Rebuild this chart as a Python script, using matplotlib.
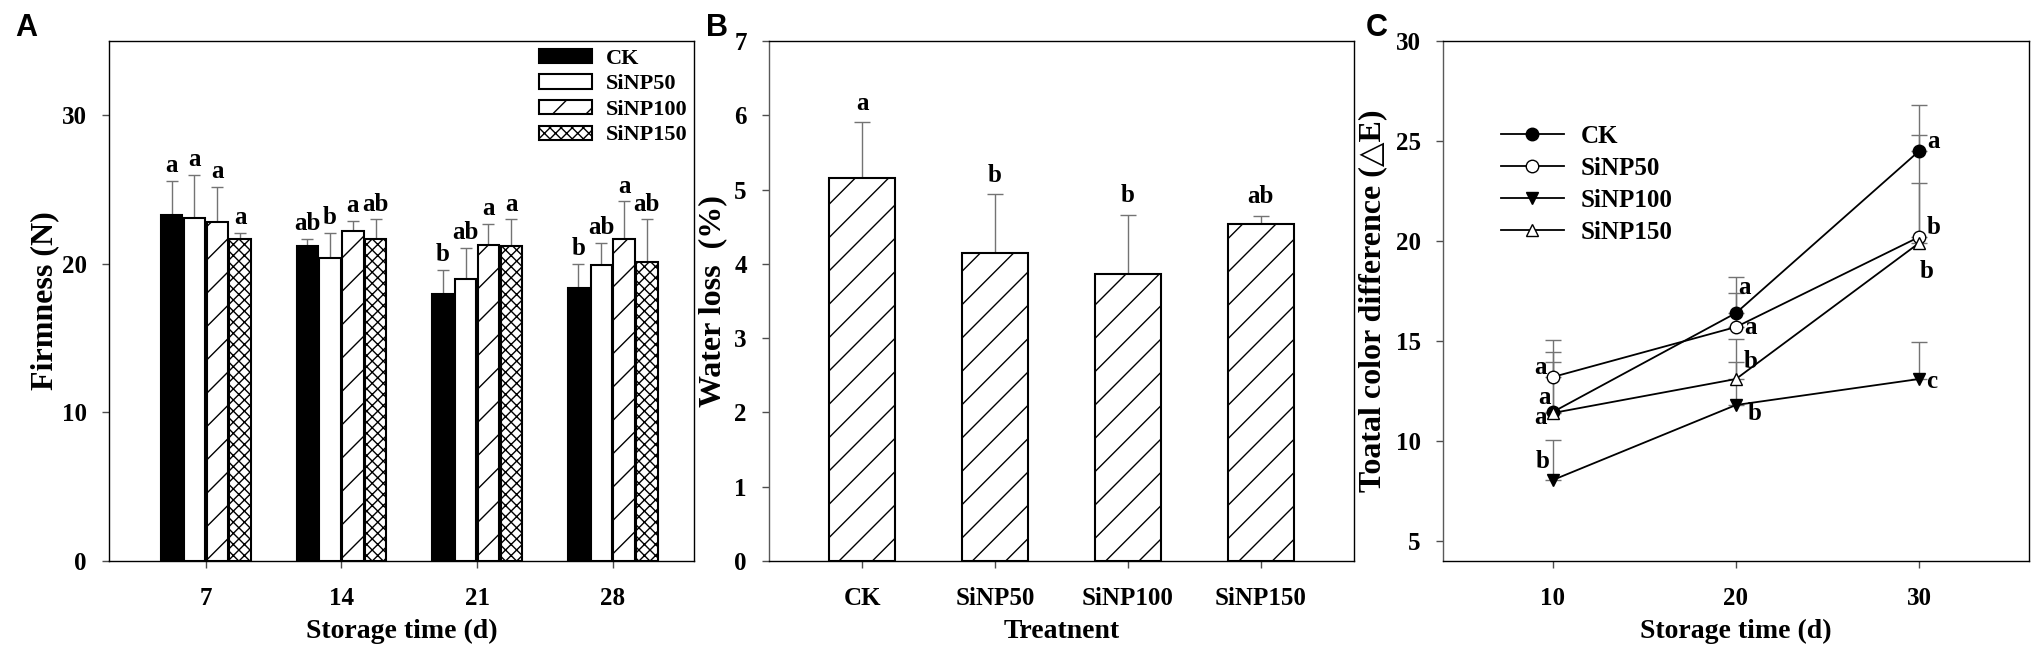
import numpy as np
import matplotlib
matplotlib.use("Agg")
import matplotlib.pyplot as plt

# ===============================
# DATA
# ===============================
treatments = ["CK", "SiNP50", "SiNP100", "SiNP150"]

# A - firmness (N) by storage day
days_a = [7, 14, 21, 28]
firm_ck = [23.3, 21.2, 18.0, 18.4]
firm_50 = [23.1, 20.4, 19.0, 19.9]
firm_100 = [22.8, 22.2, 21.3, 21.7]
firm_150 = [21.7, 21.7, 21.2, 20.1]
firm_ck_err = [2.3, 0.5, 1.6, 1.6]
firm_50_err = [2.9, 1.7, 2.1, 1.5]
firm_100_err = [2.4, 0.7, 1.4, 2.5]
firm_150_err = [0.4, 1.3, 1.8, 2.9]
firm_ck_sig = ["a", "ab", "b", "b"]
firm_50_sig = ["a", "b", "ab", "ab"]
firm_100_sig = ["a", "a", "a", "a"]
firm_150_sig = ["a", "ab", "a", "ab"]

# B - water loss (%)
water_loss = [5.15, 4.15, 3.87, 4.54]
water_loss_err = [0.76, 0.79, 0.79, 0.11]
water_loss_sig = ["a", "b", "b", "ab"]

# C - total color difference
days_c = [10, 20, 30]
de_ck = [11.45, 16.4, 24.5]
de_50 = [13.2, 15.7, 20.2]
de_100 = [8.05, 11.8, 13.1]
de_150 = [11.4, 13.1, 19.9]
de_ck_err = [3.0, 1.8, 2.3]
de_50_err = [1.85, 1.7, 2.7]
de_100_err = [2.0, 3.3, 1.85]
de_150_err = [2.55, 0.85, 5.4]
de_ck_sig = ["a", "a", "a"]
de_50_sig = ["a", "a", "b"]
de_100_sig = ["b", "b", "c"]
de_150_sig = ["a", "b", "b"]

# ===============================
# STYLE
# ===============================
plt.rcParams["font.family"] = ["Liberation Serif", "DejaVu Serif"]
plt.rcParams["font.weight"] = "bold"
plt.rcParams["hatch.linewidth"] = 1.0

TICK_FS = 18
XLABEL_FS = 20
YLABEL_FS = 23
SIG_FS = 18
ERR_COLOR = "0.45"

W, H = 2033, 650
fig = plt.figure(figsize=(W / 100, H / 100), dpi=100)


def add_panel(left, right, top=41, bottom=561):
    return fig.add_axes([left / W, (H - bottom) / H, (right - left) / W, (bottom - top) / H])


def style_axis(ax):
    for sp in ax.spines.values():
        sp.set_linewidth(1.0)
    ax.tick_params(axis="both", direction="out", length=5, width=1,
                   labelsize=TICK_FS, color="0.3")
    ax.tick_params(axis="y", pad=11)
    ax.tick_params(axis="x", pad=14)
    for lbl in ax.get_xticklabels() + ax.get_yticklabels():
        lbl.set_fontweight("bold")


def up_errorbar(ax, x, y, err, capsize):
    eb = ax.errorbar(x, y, yerr=[np.zeros(len(err)), err], fmt="none",
                     ecolor=ERR_COLOR, elinewidth=1.0, capsize=capsize,
                     capthick=1.0, zorder=1)
    for cap in eb[1]:
        cap.set_color("black")
    return eb


ax_a = add_panel(109, 694)
ax_b = add_panel(769, 1354)
ax_c = add_panel(1443, 2029)

# ===============================
# PANEL A
# ===============================
bar_w = 1.1
step = 1.18
a_series = [
    (firm_ck, firm_ck_err, firm_ck_sig, "black", ""),
    (firm_50, firm_50_err, firm_50_sig, "white", ""),
    (firm_100, firm_100_err, firm_100_sig, "white", "/"),
    (firm_150, firm_150_err, firm_150_sig, "white", "xxx"),
]
x_a = np.array(days_a, dtype=float)
for i, (vals, errs, sig, fc, hatch) in enumerate(a_series):
    xs = x_a + (i - 1.5) * step
    ax_a.bar(xs, vals, width=bar_w, color=fc, edgecolor="black",
             linewidth=1.5, hatch=hatch, label=treatments[i], zorder=2)
    up_errorbar(ax_a, xs, vals, errs, capsize=4)
    for xx, v, e, s in zip(xs, vals, errs, sig):
        ax_a.text(xx, v + e + 0.25, s, ha="center", va="bottom",
                  fontsize=SIG_FS, fontweight="bold")

ax_a.set_xlim(2, 32.2)
ax_a.set_ylim(0, 35)
ax_a.set_xticks(days_a)
ax_a.set_yticks([0, 10, 20, 30])
ax_a.set_xlabel("Storage time (d)", fontsize=XLABEL_FS, fontweight="bold")
ax_a.set_ylabel("Firmness (N)", fontsize=YLABEL_FS, fontweight="bold")
ax_a.xaxis.set_label_coords(0.5, -0.112)
ax_a.yaxis.set_label_coords(-0.085, 0.5)
ax_a.legend(loc="upper left", bbox_to_anchor=(0.735, 0.985), frameon=False,
            handlelength=2.4, handleheight=0.6, handletextpad=0.6,
            labelspacing=0.25, borderpad=0, borderaxespad=0,
            prop={"weight": "bold", "size": 16})
style_axis(ax_a)

# ===============================
# PANEL B
# ===============================
x_b = np.arange(1, len(treatments) + 1)
ax_b.bar(x_b, water_loss, width=0.5, color="white", edgecolor="black",
         linewidth=1.5, hatch="/", zorder=2)
up_errorbar(ax_b, x_b, water_loss, water_loss_err, capsize=6)
for xx, v, e, s in zip(x_b, water_loss, water_loss_err, water_loss_sig):
    ax_b.text(xx, v + e + 0.1, s, ha="center", va="bottom",
              fontsize=SIG_FS, fontweight="bold")

ax_b.set_xlim(0.3, 4.7)
ax_b.set_ylim(0, 7)
ax_b.set_xticks(x_b)
ax_b.set_xticklabels(treatments)
ax_b.set_yticks(range(0, 8))
ax_b.set_xlabel("Treatnent", fontsize=XLABEL_FS, fontweight="bold")
ax_b.set_ylabel("Water loss  (%)", fontsize=YLABEL_FS, fontweight="bold")
ax_b.xaxis.set_label_coords(0.5, -0.112)
ax_b.yaxis.set_label_coords(-0.072, 0.5)
style_axis(ax_b)
ax_b.spines["left"].set_color("0.35")

# ===============================
# PANEL C
# ===============================
c_series = [
    (de_ck, de_ck_err, de_ck_sig, "o", "black"),
    (de_50, de_50_err, de_50_sig, "o", "white"),
    (de_100, de_100_err, de_100_sig, "v", "black"),
    (de_150, de_150_err, de_150_sig, "^", "white"),
]
# letter offsets (dx, dy) from each point
sig_offsets = [
    [(-0.7, -0.3), (0.45, 1.3), (0.8, 0.5)],
    [(-0.7, 0.5), (0.8, 0.0), (0.8, 0.5)],
    [(-0.55, 0.9), (1.0, -0.4), (0.7, -0.1)],
    [(-0.45, 0.8), (0.8, 0.9), (0.4, -1.45)],
]
for i, (vals, errs, sig, mk, mfc) in enumerate(c_series):
    up_errorbar(ax_c, days_c, vals, errs, capsize=6)
    ax_c.plot(days_c, vals, color="black", linewidth=1.3, marker=mk,
              markersize=9, markerfacecolor=mfc, markeredgecolor="black",
              markeredgewidth=1.0, label=treatments[i], zorder=3)
    for xx, v, s, (dx, dy) in zip(days_c, vals, sig, sig_offsets[i]):
        ax_c.text(xx + dx, v + dy, s, ha="center", va="center",
                  fontsize=SIG_FS, fontweight="bold", zorder=4)

ax_c.set_xlim(4, 36)
ax_c.set_ylim(4, 30)
ax_c.set_xticks(days_c)
ax_c.set_yticks([5, 10, 15, 20, 25, 30])
ax_c.set_xlabel("Storage time (d)", fontsize=XLABEL_FS, fontweight="bold")
ax_c.set_ylabel("Toatal color difference (\u25b3E)", fontsize=YLABEL_FS,
                fontweight="bold", family=["Liberation Serif", "DejaVu Sans"])
ax_c.xaxis.set_label_coords(0.5, -0.112)
ax_c.yaxis.set_label_coords(-0.096, 0.5)
ax_c.legend(loc="upper left", bbox_to_anchor=(0.099, 0.838), frameon=False,
            handlelength=2.5, handletextpad=0.7, labelspacing=0.36,
            borderpad=0, borderaxespad=0,
            prop={"weight": "bold", "size": 18})
style_axis(ax_c)
ax_c.spines["left"].set_color("0.35")

# ===============================
# PANEL LETTERS
# ===============================
for txt, xc in [("A", 26), ("B", 717), ("C", 1377)]:
    fig.text(xc / W, 1 - 28.5 / H, txt, ha="center", va="center",
             fontsize=22, fontweight="bold", family="Liberation Sans")

fig.savefig("out.png", dpi=100)
